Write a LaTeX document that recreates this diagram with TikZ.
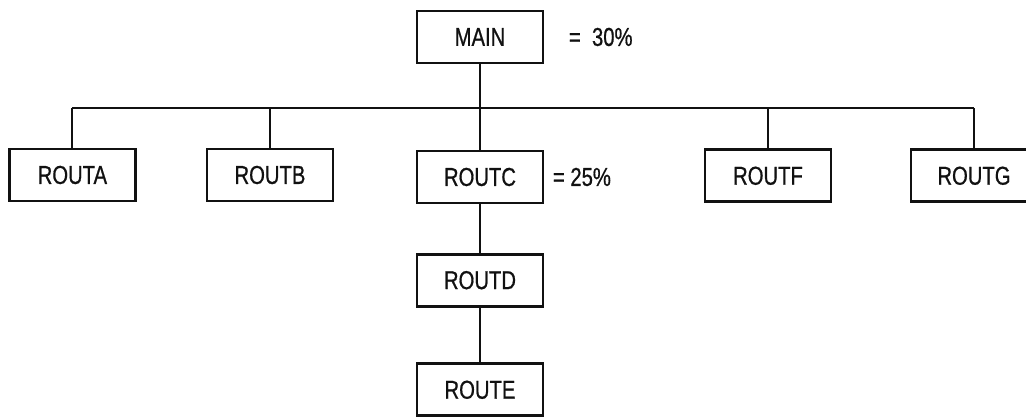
\documentclass[tikz,border=0pt]{standalone}
\usepackage{fontspec}
\setmainfont{Liberation Sans}
\newfontfamily\letterfont[FakeBold=0.8]{Liberation Sans}
\usepackage{graphicx}
\usepackage{xcolor}
\usepackage{tikz}
\definecolor{bg}{HTML}{FFFFFF}
\definecolor{ink}{HTML}{111111}
% stencil lettering: a bit taller than the font
\newcommand{\stencil}[1]{\scalebox{0.9}[1.15]{#1}}
\tikzset{
  routine/.style={draw=ink, line width=2pt, minimum width=3.15cm, minimum height=1.3cm,
    inner sep=0pt, text=ink, font=\letterfont\fontsize{16}{19}\selectfont},
  wire/.style={draw=ink, line width=1.3pt},
  share/.style={text=ink, font=\letterfont\fontsize{16}{19}\selectfont, anchor=west},
}

\begin{document}
\begin{tikzpicture}
  \useasboundingbox[fill=bg] (0,0) rectangle (25.65,10.425);
  \node[routine] (main) at (12.0,9.5) {\stencil{MAIN}};
  \node[share] at (14.1,9.5) {\stencil{= \ 30\%}};
  \coordinate (bus) at (0,7.725);
  \node[routine] (routa) at (1.81,6.05) {\stencil{ROUTA}};
  \node[routine] (routb) at (6.75,6.05) {\stencil{ROUTB}};
  \node[routine] (routc) at (12.0,6.0) {\stencil{ROUTC}};
  \node[share] at (13.7,6.0) {\stencil{= 25\%}};
  \node[routine] (routf) at (19.2,6.03) {\stencil{ROUTF}};
  \node[routine] (routg) at (24.35,6.03) {\stencil{ROUTG}};
  \node[routine] (routd) at (12.0,3.42) {\stencil{ROUTD}};
  \node[routine] (route) at (12.0,0.68) {\stencil{ROUTE}};
  % call tree
  \draw[wire] (routa.north |- bus) -- (routg.north |- bus);
  \draw[wire] (main) -- (main |- bus);
  \foreach \r in {routa,routb,routc,routf,routg}
    \draw[wire] (\r) -- (\r |- bus);
  \draw[wire] (routc) -- (routd);
  \draw[wire] (routd) -- (route);
\end{tikzpicture}
\end{document}
